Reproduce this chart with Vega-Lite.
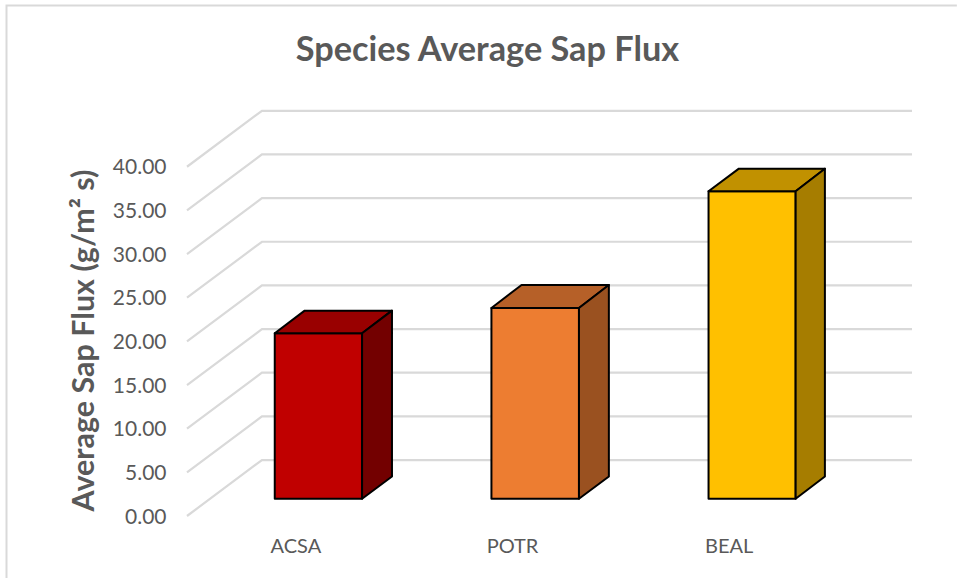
{
  "$schema": "https://vega.github.io/schema/vega-lite/v6.json",
  "width": 725,
  "height": 406,
  "autosize": "none",
  "padding": {"left": 187, "top": 110, "right": 45, "bottom": 62},
  "background": "white",
  "config": {"view": {"stroke": null}},
  "title": {
    "text": "Species Average Sap Flux",
    "anchor": "middle",
    "dx": -62,
    "offset": 0,
    "dy": 67,
    "font": "Lato",
    "fontWeight": "bold",
    "fontSize": 34.3,
    "color": "#595959"
  },
  "datasets": {
    "frame": [
      {"step": 1, "pos": -0.833, "val": -7.1},
      {"step": 2, "pos": -0.833, "val": 58.48},
      {"step": 3, "pos": 3.553, "val": 58.48}
    ],
    "grid": [
      {"level": 0, "step": 1, "pos": 0, "val": 0}, {"level": 0, "step": 2, "pos": 0.346, "val": 6.41}, {"level": 0, "step": 3, "pos": 3.346, "val": 6.41},
      {"level": 5, "step": 1, "pos": 0, "val": 5}, {"level": 5, "step": 2, "pos": 0.346, "val": 11.41}, {"level": 5, "step": 3, "pos": 3.346, "val": 11.41},
      {"level": 10, "step": 1, "pos": 0, "val": 10}, {"level": 10, "step": 2, "pos": 0.346, "val": 16.41}, {"level": 10, "step": 3, "pos": 3.346, "val": 16.41},
      {"level": 15, "step": 1, "pos": 0, "val": 15}, {"level": 15, "step": 2, "pos": 0.346, "val": 21.41}, {"level": 15, "step": 3, "pos": 3.346, "val": 21.41},
      {"level": 20, "step": 1, "pos": 0, "val": 20}, {"level": 20, "step": 2, "pos": 0.346, "val": 26.41}, {"level": 20, "step": 3, "pos": 3.346, "val": 26.41},
      {"level": 25, "step": 1, "pos": 0, "val": 25}, {"level": 25, "step": 2, "pos": 0.346, "val": 31.41}, {"level": 25, "step": 3, "pos": 3.346, "val": 31.41},
      {"level": 30, "step": 1, "pos": 0, "val": 30}, {"level": 30, "step": 2, "pos": 0.346, "val": 36.41}, {"level": 30, "step": 3, "pos": 3.346, "val": 36.41},
      {"level": 35, "step": 1, "pos": 0, "val": 35}, {"level": 35, "step": 2, "pos": 0.346, "val": 41.41}, {"level": 35, "step": 3, "pos": 3.346, "val": 41.41},
      {"level": 40, "step": 1, "pos": 0, "val": 40}, {"level": 40, "step": 2, "pos": 0.346, "val": 46.41}, {"level": 40, "step": 3, "pos": 3.346, "val": 46.41}
    ],
    "faces": [
      {"face": "ACSA front", "pos": 0.405, "low": 1.98, "high": 20.93},
      {"face": "ACSA front", "pos": 0.808, "low": 1.98, "high": 20.93},
      {"face": "ACSA top", "pos": 0.405, "low": 20.93, "high": 20.93},
      {"face": "ACSA top", "pos": 0.543, "low": 20.93, "high": 23.52},
      {"face": "ACSA top", "pos": 0.808, "low": 20.93, "high": 23.52},
      {"face": "ACSA top", "pos": 0.946, "low": 23.52, "high": 23.52},
      {"face": "ACSA side", "pos": 0.808, "low": 1.98, "high": 20.93},
      {"face": "ACSA side", "pos": 0.946, "low": 4.52, "high": 23.52},
      {"face": "POTR front", "pos": 1.405, "low": 1.98, "high": 23.83},
      {"face": "POTR front", "pos": 1.809, "low": 1.98, "high": 23.83},
      {"face": "POTR top", "pos": 1.405, "low": 23.83, "high": 23.83},
      {"face": "POTR top", "pos": 1.544, "low": 23.83, "high": 26.46},
      {"face": "POTR top", "pos": 1.809, "low": 23.83, "high": 26.46},
      {"face": "POTR top", "pos": 1.947, "low": 26.46, "high": 26.46},
      {"face": "POTR side", "pos": 1.809, "low": 1.98, "high": 23.83},
      {"face": "POTR side", "pos": 1.947, "low": 4.52, "high": 26.46},
      {"face": "BEAL front", "pos": 2.407, "low": 1.98, "high": 37.19},
      {"face": "BEAL front", "pos": 2.809, "low": 1.98, "high": 37.19},
      {"face": "BEAL top", "pos": 2.407, "low": 37.19, "high": 37.19},
      {"face": "BEAL top", "pos": 2.547, "low": 37.19, "high": 39.78},
      {"face": "BEAL top", "pos": 2.809, "low": 37.19, "high": 39.78},
      {"face": "BEAL top", "pos": 2.944, "low": 39.78, "high": 39.78},
      {"face": "BEAL side", "pos": 2.809, "low": 1.98, "high": 37.19},
      {"face": "BEAL side", "pos": 2.944, "low": 4.52, "high": 39.78}
    ]
  },
  "layer": [
    {
      "data": {"name": "grid"},
      "mark": {"type": "line", "color": "#d9d9d9", "strokeWidth": 2.2},
      "encoding": {
        "x": {
          "field": "pos",
          "type": "quantitative",
          "scale": {"domain": [0, 3.346], "nice": false, "zero": false},
          "axis": {
            "title": null,
            "values": [0.5, 1.5, 2.5],
            "labelExpr": "datum.value < 1 ? 'ACSA' : datum.value < 2 ? 'POTR' : 'BEAL'",
            "domain": false,
            "ticks": false,
            "grid": false,
            "labelPadding": 20,
            "labelFont": "Lato",
            "labelFontSize": 20,
            "labelColor": "#595959",
            "labelFlush": false,
            "labelOverlap": false
          }
        },
        "y": {
          "field": "val",
          "type": "quantitative",
          "scale": {"domain": [0, 46.5], "nice": false, "zero": false},
          "axis": {
            "title": "Average Sap Flux (g/m² s)",
            "titleFont": "Lato",
            "titleFontWeight": "bold",
            "titleFontSize": 30.5,
            "titleColor": "#595959",
            "titleX": -88,
            "titleY": 230,
            "values": [0, 5, 10, 15, 20, 25, 30, 35, 40],
            "format": ".2f",
            "domain": false,
            "ticks": false,
            "grid": false,
            "labelPadding": 21,
            "labelOffset": 1,
            "labelFont": "Lato",
            "labelFontSize": 21,
            "labelColor": "#595959",
            "labelOverlap": false
          }
        },
        "detail": {"field": "level"},
        "order": {"field": "step"}
      }
    },
    {
      "data": {"name": "frame"},
      "mark": {"type": "line", "color": "#d9d9d9", "strokeWidth": 2},
      "encoding": {
        "x": {"field": "pos", "type": "quantitative"},
        "y": {"field": "val", "type": "quantitative"},
        "order": {"field": "step"}
      }
    },
    {
      "data": {"name": "faces"},
      "mark": {"type": "area", "stroke": "#000000", "strokeWidth": 2, "strokeJoin": "round", "opacity": 1},
      "encoding": {
        "x": {"field": "pos", "type": "quantitative"},
        "y": {"field": "high", "type": "quantitative", "stack": null},
        "y2": {"field": "low"},
        "color": {
          "field": "face",
          "type": "nominal",
          "legend": null,
          "scale": {
            "domain": ["ACSA front", "ACSA top", "ACSA side", "POTR front", "POTR top", "POTR side", "BEAL front", "BEAL top", "BEAL side"],
            "range": ["#c00000", "#990000", "#730000", "#ed7d31", "#b66028", "#9a5120", "#ffc000", "#c19100", "#a67d00"]
          }
        }
      }
    }
  ]
}
